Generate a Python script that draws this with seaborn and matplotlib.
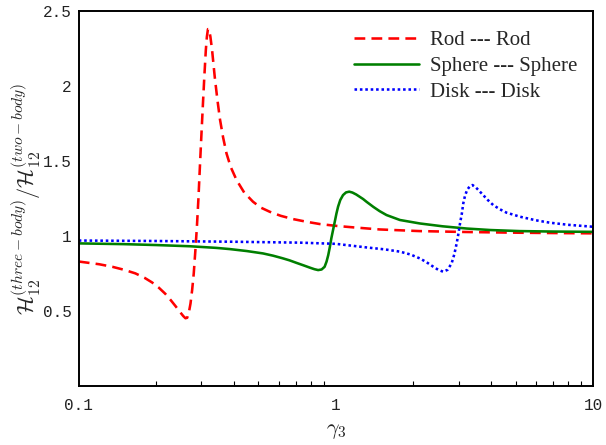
import numpy as np
import pandas as pd
import matplotlib
matplotlib.use("Agg")
import matplotlib.pyplot as plt
import seaborn as sns
from matplotlib.ticker import LogLocator, FixedLocator, FixedFormatter, NullFormatter

# values (x is gamma_3, log scale)
rod_x = [0.10, 0.12, 0.135, 0.15, 0.166, 0.18, 0.193, 0.205, 0.217, 0.228, 0.238, 0.248,
         0.255, 0.26, 0.264, 0.268, 0.272, 0.276, 0.280, 0.284, 0.288, 0.292, 0.296,
         0.300, 0.304, 0.308, 0.312, 0.315, 0.318, 0.321, 0.325, 0.330, 0.338, 0.346,
         0.354, 0.364, 0.3755, 0.39, 0.411, 0.44, 0.476, 0.51, 0.553, 0.61, 0.682,
         0.77, 0.866, 1.0, 1.167, 1.48, 2.12, 3.2, 5.2, 7.0, 10.0]
rod_y = [0.830, 0.812, 0.795, 0.775, 0.751, 0.722, 0.690, 0.655, 0.615, 0.572, 0.532, 0.492,
         0.466, 0.452, 0.455, 0.49, 0.55, 0.64, 0.75, 0.90, 1.06, 1.25, 1.47,
         1.68, 1.88, 2.07, 2.24, 2.33, 2.38, 2.38, 2.33, 2.24, 2.06, 1.91,
         1.78, 1.66, 1.551, 1.46, 1.373, 1.29, 1.229, 1.19, 1.162, 1.135, 1.113,
         1.095, 1.08, 1.068, 1.058, 1.044, 1.033, 1.027, 1.022, 1.02, 1.018]

sphere_x = [0.10, 0.15, 0.2, 0.27, 0.343, 0.387, 0.45, 0.521, 0.57, 0.62, 0.66, 0.703,
            0.75, 0.793, 0.825, 0.853, 0.88, 0.904, 0.92, 0.934, 0.947, 0.96, 0.975,
            0.99, 1.005, 1.02, 1.04, 1.066, 1.095, 1.127, 1.16, 1.2, 1.276, 1.317,
            1.4, 1.48, 1.574, 1.775, 2.12, 2.6, 3.23, 4.0, 5.2, 7.0, 10.0]
sphere_y = [0.951, 0.946, 0.940, 0.932, 0.921, 0.913, 0.90, 0.884, 0.869, 0.852, 0.838, 0.821,
            0.804, 0.789, 0.779, 0.773, 0.777, 0.795, 0.83, 0.873, 0.925, 0.984, 1.04,
            1.095, 1.15, 1.196, 1.24, 1.273, 1.291, 1.296, 1.29, 1.277, 1.247, 1.228,
            1.194, 1.166, 1.14, 1.107, 1.084, 1.065, 1.05, 1.04, 1.033, 1.03, 1.028]

disk_x = [0.10, 0.2, 0.4, 0.724, 1.0, 1.317, 1.55, 1.775, 1.95, 2.12, 2.25, 2.39, 2.5,
          2.615, 2.72, 2.82, 2.89, 2.95, 3.0, 3.04, 3.09, 3.13, 3.18, 3.24, 3.32, 3.40,
          3.5, 3.69, 3.9, 4.09, 4.35, 4.61, 5.2, 6.0, 6.8, 8.0, 10.0]
disk_y = [0.970, 0.967, 0.962, 0.956, 0.948, 0.924, 0.911, 0.896, 0.877, 0.851, 0.826, 0.796, 0.775,
          0.762, 0.775, 0.818, 0.88, 0.951, 1.02, 1.084, 1.15, 1.218, 1.27, 1.307, 1.333, 1.34,
          1.325, 1.284, 1.24, 1.207, 1.178, 1.156, 1.129, 1.105, 1.089, 1.075, 1.062]

labels = ["Rod --- Rod", "Sphere --- Sphere", "Disk --- Disk"]
y_ticks = [0.5, 1, 1.5, 2, 2.5]
y_tick_labels = ["0.5", "1", "1.5", "2", "2.5"]
x_ticks = [0.1, 1, 10]
x_tick_labels = ["0.1", "1", "10"]

sns.set_style("white")
plt.rcParams["mathtext.fontset"] = "cm"
plt.rcParams["font.family"] = ["Liberation Serif", "DejaVu Serif"]

fig = plt.figure(figsize=(6.06, 4.45), dpi=100)
ax = fig.add_axes([0.130, 0.1326, 0.8485, 0.8424])

styles = [
    (rod_x, rod_y, "#ff0000", (0, (4.2, 2.4)), labels[0]),
    (sphere_x, sphere_y, "#007f00", "-", labels[1]),
    (disk_x, disk_y, "#0000ff", (0, (1, 1.1)), labels[2]),
]
for xs, ys, col, ls, lab in styles:
    df = pd.DataFrame({"x": xs, "y": ys})
    sns.lineplot(data=df, x="x", y="y", ax=ax, color=col, linewidth=1.85,
                 linestyle=ls, label=lab, sort=False)

ax.set_xscale("log")
ax.set_xlim(0.1, 10)
ax.set_ylim(0, 2.5)

ax.xaxis.set_major_locator(FixedLocator(x_ticks))
ax.xaxis.set_major_formatter(FixedFormatter(x_tick_labels))
ax.xaxis.set_minor_locator(LogLocator(base=10, subs=np.arange(2, 10)))
ax.xaxis.set_minor_formatter(NullFormatter())
ax.yaxis.set_major_locator(FixedLocator(y_ticks))
ax.yaxis.set_major_formatter(FixedFormatter(y_tick_labels))

ax.tick_params(axis="both", which="both", direction="in", top=False, right=False,
               colors="black", labelcolor="#222222")
ax.tick_params(axis="x", which="major", length=6, width=0.8, pad=9)
ax.tick_params(axis="y", which="major", length=6, width=0.8, pad=5)
ax.tick_params(axis="x", which="minor", length=3.5, width=0.8, bottom=True)
for lab in ax.get_xticklabels() + ax.get_yticklabels():
    lab.set_fontfamily("Liberation Mono")
    lab.set_fontsize(11.5)

for sp in ax.spines.values():
    sp.set_color("black")
    sp.set_linewidth(1.4)

ax.set_xlabel(r"$\gamma_3$", fontsize=16, labelpad=6)
ax.set_ylabel(r"$\mathcal{H}_{12}^{(three-body)}/\mathcal{H}_{12}^{(two-body)}$",
              fontsize=16, labelpad=0)

leg = ax.legend(loc="upper right", frameon=False, fontsize=15, handlelength=3.1,
                labelspacing=0.29, handletextpad=0.55, borderaxespad=0.0,
                bbox_to_anchor=(0.986, 0.970))

fig.savefig("out.png", dpi=100)
